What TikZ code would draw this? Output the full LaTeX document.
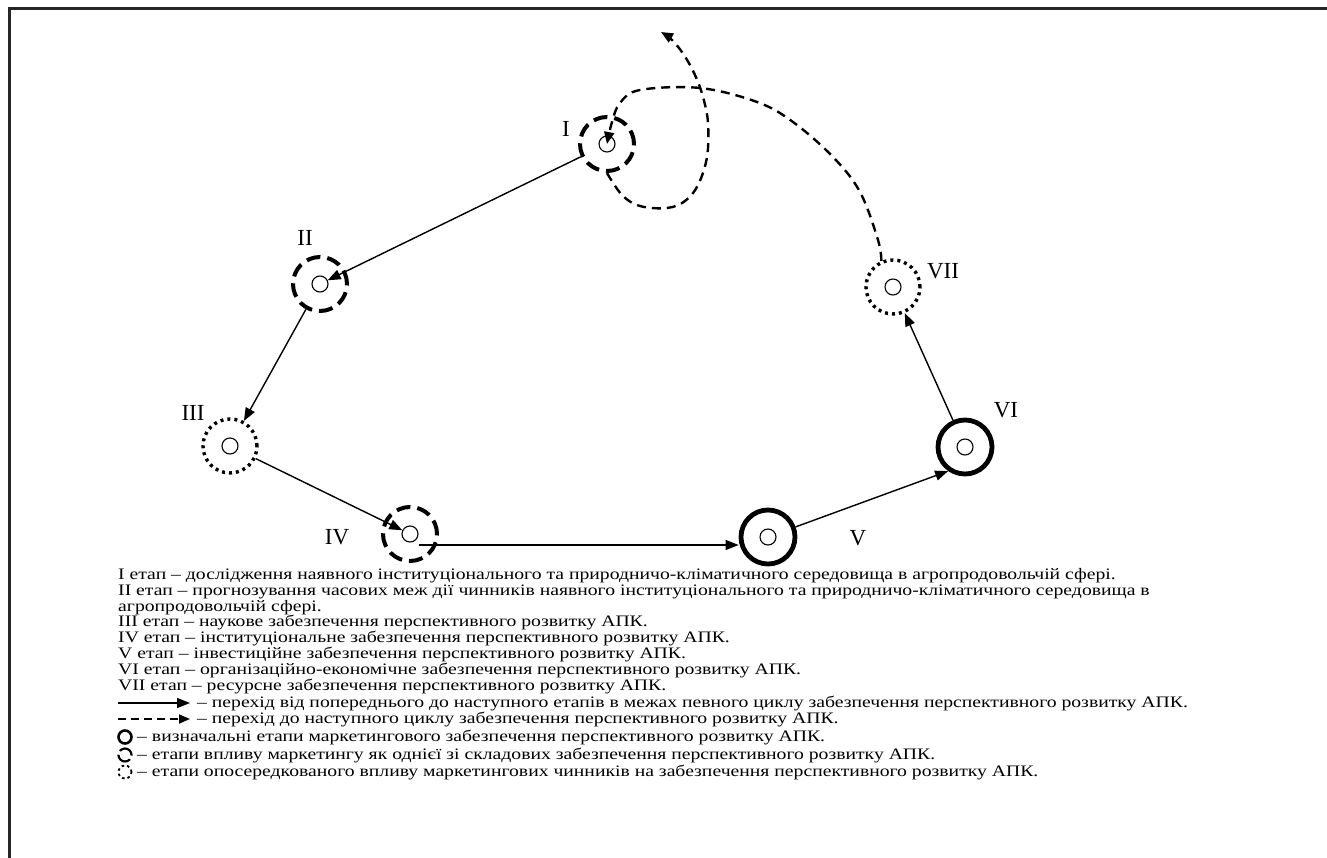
\documentclass[tikz,border=0pt]{standalone}
\usepackage{fontspec}
\setmainfont{Liberation Serif}
\newfontfamily\legendfont{Liberation Serif}[FakeStretch=1.23]
\usetikzlibrary{arrows.meta, positioning, calc}
\tikzset{
  stage/.style={circle, draw, inner sep=0pt, minimum size=54pt},
  stagefull/.style={stage, line width=4.8pt},
  stagedash/.style={stage, line width=4pt, dash pattern=on 14pt off 7pt},
  stagedot/.style={stage, line width=3.4pt, dash pattern=on 3pt off 4pt},
  core/.style={circle, draw, inner sep=0pt, minimum size=16pt, line width=1.1pt},
  numeral/.style={font=\fontsize{23}{26}\selectfont},
  flow/.style={line width=1.4pt, -{Triangle[length=13pt,width=10pt]}},
  nextcycle/.style={line width=2.4pt, dash pattern=on 9pt off 6pt, -{Triangle[length=12pt,width=10pt]}},
  legend/.style={anchor=west, inner sep=0pt, font=\legendfont\fontsize{16}{16}\selectfont, text height=11pt, text depth=3pt},
}
\begin{document}
\begin{tikzpicture}[x=1pt,y=-1pt]
\useasboundingbox (0,0) rectangle (1327,858);
\draw[line width=3pt, black!85] (9,858) -- (9,9) -- (1327,9);
% === STAGES OF THE CYCLE ===
\node[stagedash] (i)   at (607,144) {};
\node[stagedash] (ii)  at (320,284) {};
\node[stagedot]  (iii) at (230,446) {};
\node[stagedash] (iv)  at (410,534) {};
\node[stagefull] (v)   at (768,537) {};
\node[stagefull] (vi)  at (965,447) {};
\node[stagedot]  (vii) at (893,287) {};
\foreach \s in {i,ii,iii,iv,v,vi,vii}
    \node[core] (\s-in) at (\s) {};
\node[numeral] (lab-i)   at (566,129) {I};
\node[numeral] (lab-ii)  at (305,238) {II};
\node[numeral] (lab-iii) at (193,413) {III};
\node[numeral] (lab-iv)  at (337,537) {IV};
\node[numeral] (lab-v)   at (858,538) {V};
\node[numeral] (lab-vi)  at (1006,410) {VI};
\node[numeral] (lab-vii) at (943,271) {VII};
% === TRANSITIONS WITHIN ONE CYCLE ===
\draw[flow] (i) -- (ii-in);
\draw[flow] (ii) -- (iii);
\draw[flow] (iii) -- (iv-in);
\draw[flow] ([xshift=9pt,yshift=-11pt]iv.center) -- ([yshift=-8pt]v.west);
\draw[flow] (v) -- (vi.235);
\draw[flow] (vi) -- (vii);
% === TRANSITION TO THE NEXT CYCLE ===
\draw[nextcycle] plot[smooth, tension=0.6] coordinates {(vii.114) (878,240) (860,192) (833,157) (793,122) (757,102) (700,88) (640,90) (620,103) (612,122) (i-in.center)};
\draw[nextcycle] plot[smooth, tension=0.6] coordinates {(i.south) (622,195) (640,206) (667,208) (685,201) (698,185) (707,157) (708,123) (703,97) (695,75) (684,55) (672,40) (661,32)};
% === LEGEND ===
\foreach \n/\ypos/\txt in {
    1/575/{I етап – дослідження наявного інституціонального та природничо-кліматичного середовища в агропродовольчій сфері.},
    2/591/{II етап – прогнозування часових меж дії чинників наявного інституціонального та природничо-кліматичного середовища в},
    3/607/{агропродовольчій сфері.},
    4/622/{III етап – наукове забезпечення перспективного розвитку АПК.},
    5/638/{IV етап – інституціональне забезпечення перспективного розвитку АПК.},
    6/654/{V етап – інвестиційне забезпечення перспективного розвитку АПК.},
    7/670/{VI етап – організаційно-економічне забезпечення перспективного розвитку АПК.},
    8/686/{VII етап – ресурсне забезпечення перспективного розвитку АПК.}}
    \node[legend] (leg-\n) at (118,\ypos) {\txt};
\coordinate (key-flow) at (118,703);
\coordinate (key-next) at (118,719);
\draw[flow] (key-flow) -- ++(72,0);
\draw[line width=1.8pt, dash pattern=on 8pt off 5pt, -{Triangle[length=11pt,width=9pt]}] (key-next) -- ++(72,0);
\node[legend] (leg-flow) at (197,703) {– перехід від попереднього до наступного етапів в межах певного циклу забезпечення перспективного розвитку АПК.};
\node[legend] (leg-next) at (197,719) {– перехід до наступного циклу забезпечення перспективного розвитку АПК.};
\node[circle, draw, inner sep=0pt, minimum size=13pt, line width=2.6pt] (key-full) at (125,737) {};
\node[circle, draw, inner sep=0pt, minimum size=13pt, line width=2.2pt, dash pattern=on 16pt off 4pt] (key-dash) at (125,755) {};
\node[circle, draw, inner sep=0pt, minimum size=13pt, line width=1.8pt, dash pattern=on 2.5pt off 3pt] (key-dot) at (125,772) {};
\node[legend] (leg-full) at (137,737) {– визначальні етапи маркетингового забезпечення перспективного розвитку АПК.};
\node[legend] (leg-dash) at (137,755) {– етапи впливу маркетингу як однієї зі складових забезпечення перспективного розвитку АПК.};
\node[legend] (leg-dot)  at (137,772) {– етапи опосередкованого впливу маркетингових чинників на забезпечення перспективного розвитку АПК.};
\end{tikzpicture}
\end{document}
